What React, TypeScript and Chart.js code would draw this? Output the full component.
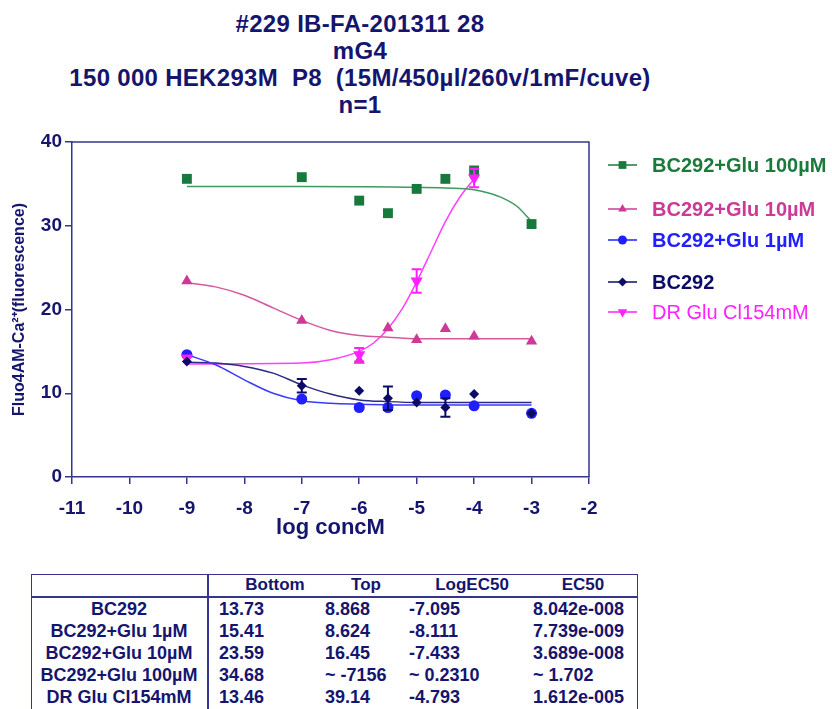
import React, { useEffect, useRef } from "react";
import { Chart, registerables } from "chart.js";
import { drawPoint } from "chart.js/helpers";

Chart.register(...registerables);

// ---------- data ----------
const titleLines = [
  "#229 IB-FA-201311 28",
  "mG4",
  "150 000 HEK293M  P8  (15M/450µl/260v/1mF/cuve)",
  "n=1",
];
const xAxisTitle = "log concM";
const yAxisTitle = "Fluo4AM-Ca²⁺(fluorescence)";

const seriesNames = ["BC292+Glu 100µM", "BC292+Glu 10µM", "BC292+Glu 1µM", "BC292", "DR Glu Cl154mM"];

// measured points (log conc M, fluorescence)
const glu100X = [-9, -7, -6, -5.5, -5, -4.5, -4, -3];
const glu100Y = [35.6, 35.8, 33.0, 31.5, 34.4, 35.6, 36.6, 30.2];

const glu10X = [-9, -7, -6, -5.5, -5, -4.5, -4, -3];
const glu10Y = [23.4, 18.7, 13.9, 17.8, 16.4, 17.7, 16.8, 16.2];

const glu1X = [-9, -7, -6, -5.5, -5, -4.5, -4, -3];
const glu1Y = [14.6, 9.3, 8.3, 8.3, 9.7, 9.8, 8.5, 7.6];

const bc292X = [-9, -7, -6, -5.5, -5, -4.5, -4, -3];
const bc292Y = [13.8, 10.9, 10.3, 9.4, 8.9, 8.3, 9.9, 7.6];
const bc292Err = [0, 0.8, 0, 1.4, 0, 1.1, 0, 0];

const drX = [-9, -6, -5, -4];
const drY = [14.2, 14.6, 23.4, 35.7];
const drErr = [0, 0.8, 1.4, 1.1];

// fitted curves
const glu100CurveX = [-9, -7, -5, -4.5, -4, -3.75, -3.5, -3.25, -3];
const glu100CurveY = [34.7, 34.7, 34.6, 34.5, 34.3, 33.9, 33.3, 32.3, 30.5];

const glu10CurveX = [-9, -8.5, -8, -7.5, -7, -6.5, -6, -5.5, -5, -4, -3];
const glu10CurveY = [23.2, 22.7, 21.7, 20.2, 18.7, 17.5, 16.9, 16.7, 16.5, 16.5, 16.5];

const glu1CurveX = [-9, -8.5, -8, -7.5, -7, -6.5, -6, -5, -3];
const glu1CurveY = [14.6, 13.4, 11.6, 10.0, 9.1, 8.8, 8.7, 8.6, 8.6];

const bc292CurveX = [-9, -8.5, -8, -7.5, -7, -6.5, -6, -5.5, -5, -4, -3];
const bc292CurveY = [13.7, 13.6, 13.2, 12.4, 11.0, 9.9, 9.2, 9.0, 8.9, 8.9, 8.9];

const drCurveX = [-9, -7, -6.5, -6, -5.75, -5.5, -5.25, -5, -4.75, -4.5, -4.25, -4];
const drCurveY = [13.5, 13.6, 14.0, 15.0, 16.0, 17.7, 20.1, 23.3, 26.9, 30.5, 33.4, 35.6];

// table
const tableHeaders = ["Bottom", "Top", "LogEC50", "EC50"];
const tableNames = ["BC292", "BC292+Glu 1µM", "BC292+Glu 10µM", "BC292+Glu 100µM", "DR Glu Cl154mM"];
const tableBottom = ["13.73", "15.41", "23.59", "34.68", "13.46"];
const tableTop = ["8.868", "8.624", "16.45", "~ -7156", "39.14"];
const tableLogEC50 = ["-7.095", "-8.111", "-7.433", "~ 0.2310", "-4.793"];
const tableEC50 = ["8.042e-008", "7.739e-009", "3.689e-008", "~ 1.702", "1.612e-005"];

// ---------- styles ----------
const FONT = "'Liberation Sans', Arial, Helvetica, sans-serif";
const NAVY_TEXT = "#15156e";
const AXIS = "#35358f";

const styles = [
  { marker: "#177a3c", line: "#3f9a62", text: "#1a7a3c", pointStyle: "rect", rotation: 0, radius: 7, legendRadius: 5.5, bold: true },
  { marker: "#cc3a96", line: "#d6589f", text: "#cc3a96", pointStyle: "triangle", rotation: 0, radius: 6.5, legendRadius: 5, bold: true },
  { marker: "#1f1fff", line: "#3b3bff", text: "#1f1fff", pointStyle: "circle", rotation: 0, radius: 5.5, legendRadius: 4.5, bold: true },
  { marker: "#0c0c66", line: "#2a2a80", text: "#0c0c66", pointStyle: "rectRot", rotation: 0, radius: 5, legendRadius: 4.5, bold: true },
  { marker: "#ff1fff", line: "#ff40ff", text: "#ff22ff", pointStyle: "triangle", rotation: 180, radius: 7, legendRadius: 5.5, bold: false },
];

const legendRowsY = [165, 209, 240, 282, 312];

const zip = (xs: number[], ys: number[]) => xs.map((x, i) => ({ x, y: ys[i] }));

const pointSets = [
  { x: glu100X, y: glu100Y, err: null as number[] | null },
  { x: glu10X, y: glu10Y, err: null },
  { x: glu1X, y: glu1Y, err: null },
  { x: bc292X, y: bc292Y, err: bc292Err },
  { x: drX, y: drY, err: drErr },
];
const curveSets = [
  { x: glu100CurveX, y: glu100CurveY },
  { x: glu10CurveX, y: glu10CurveY },
  { x: glu1CurveX, y: glu1CurveY },
  { x: bc292CurveX, y: bc292CurveY },
  { x: drCurveX, y: drCurveY },
];

const pointOrder = [5, 4, 2, 0, 1];

const errorBarPlugin = {
  id: "errorBars",
  afterDatasetsDraw(chart: any) {
    const { ctx } = chart;
    const xs = chart.scales.x;
    const ys = chart.scales.y;
    chart.data.datasets.forEach((ds: any) => {
      if (!ds.errorBars) return;
      ctx.save();
      ctx.strokeStyle = ds.borderColor;
      ctx.lineWidth = 2;
      ds.data.forEach((p: any, i: number) => {
        const e = ds.errorBars[i];
        if (!e) return;
        const px = xs.getPixelForValue(p.x);
        const top = ys.getPixelForValue(p.y + e);
        const bot = ys.getPixelForValue(p.y - e);
        ctx.beginPath();
        ctx.moveTo(px, top);
        ctx.lineTo(px, bot);
        ctx.moveTo(px - 5, top);
        ctx.lineTo(px + 5, top);
        ctx.moveTo(px - 5, bot);
        ctx.lineTo(px + 5, bot);
        ctx.stroke();
      });
      ctx.restore();
    });
  },
};

const framePlugin = {
  id: "frame",
  beforeDatasetsDraw(chart: any) {
    const { ctx, chartArea } = chart;
    ctx.save();
    ctx.strokeStyle = AXIS;
    ctx.lineWidth = 1.5;
    ctx.beginPath();
    ctx.moveTo(chartArea.left, chartArea.top);
    ctx.lineTo(chartArea.right, chartArea.top);
    ctx.lineTo(chartArea.right, chartArea.bottom);
    ctx.stroke();
    ctx.restore();
  },
};

const legendPlugin = {
  id: "customLegend",
  afterDraw(chart: any) {
    const { ctx } = chart;
    ctx.save();
    seriesNames.forEach((name, i) => {
      const st = styles[i];
      const y = legendRowsY[i];
      ctx.strokeStyle = st.text;
      ctx.lineWidth = 1.5;
      ctx.beginPath();
      ctx.moveTo(608, y);
      ctx.lineTo(637, y);
      ctx.stroke();
      ctx.fillStyle = st.text;
      drawPoint(ctx, { pointStyle: st.pointStyle as any, rotation: st.rotation, radius: st.legendRadius, borderWidth: 0 } as any, 622.5, y);
      ctx.fillStyle = st.text;
      ctx.font = `${st.bold ? "bold " : ""}20px ${FONT}`;
      ctx.textBaseline = "middle";
      ctx.textAlign = "left";
      ctx.fillText(name, 652, y + 1);
    });
    ctx.restore();
  },
};

export default function App() {
  const ref = useRef<HTMLCanvasElement>(null);

  useEffect(() => {
    if (!ref.current) return;
    const datasets: any[] = [];
    pointSets.forEach((ps, i) => {
      const st = styles[i];
      datasets.push({
        label: seriesNames[i],
        data: zip(ps.x, ps.y),
        showLine: false,
        pointStyle: st.pointStyle,
        rotation: st.rotation,
        pointRadius: st.radius,
        pointHoverRadius: st.radius,
        backgroundColor: st.marker,
        borderColor: st.marker,
        borderWidth: 0,
        errorBars: ps.err,
        order: pointOrder[i],
      });
    });
    curveSets.forEach((cs, i) => {
      const st = styles[i];
      datasets.push({
        label: seriesNames[i] + " fit",
        data: zip(cs.x, cs.y),
        showLine: true,
        pointRadius: 0,
        borderColor: st.line,
        backgroundColor: st.line,
        borderWidth: 1.5,
        cubicInterpolationMode: "monotone",
        fill: false,
        order: 10 + i,
      });
    });

    const tickFont = { family: FONT, size: 19, weight: "bold" as const };
    const chart = new Chart(ref.current, {
      type: "scatter",
      data: { datasets },
      options: {
        responsive: false,
        animation: false,
        layout: { padding: { top: 142, right: 243, bottom: 0, left: 0 } },
        plugins: {
          legend: { display: false },
          tooltip: { enabled: false },
          title: { display: false },
        },
        scales: {
          x: {
            type: "linear",
            min: -11,
            max: -2,
            ticks: { stepSize: 1, color: NAVY_TEXT, font: tickFont, padding: 13 },
            grid: { drawOnChartArea: false, drawTicks: true, tickLength: 7, color: AXIS, lineWidth: 1.5 },
            border: { display: true, color: AXIS, width: 1.5 },
            title: {
              display: true,
              text: xAxisTitle,
              color: NAVY_TEXT,
              font: { family: FONT, size: 22, weight: "bold" },
              padding: { top: 0, bottom: 19 },
            },
            afterFit: (s: any) => {
              s.height = 83;
            },
          } as any,
          y: {
            type: "linear",
            min: 0,
            max: 40,
            ticks: { stepSize: 10, color: NAVY_TEXT, font: tickFont, padding: 3 },
            grid: { drawOnChartArea: false, drawTicks: true, tickLength: 7, color: AXIS, lineWidth: 1.5 },
            border: { display: true, color: AXIS, width: 1.5 },
            title: {
              display: true,
              text: yAxisTitle,
              color: NAVY_TEXT,
              font: { family: FONT, size: 16, weight: "bold" },
              padding: { top: 10, bottom: 0 },
            },
            afterFit: (s: any) => {
              s.width = 72;
            },
          } as any,
        },
      },
      plugins: [framePlugin, errorBarPlugin, legendPlugin],
    });
    return () => chart.destroy();
  }, []);

  const headerCenters = [275, 366, 472, 583];
  const valueLefts = [219, 325, 409, 533];
  const rowCenters = [609, 631, 653, 675, 697];
  const columns = [tableBottom, tableTop, tableLogEC50, tableEC50];
  const cellText: React.CSSProperties = {
    position: "absolute",
    fontFamily: FONT,
    fontWeight: "bold",
    fontSize: 18,
    lineHeight: "22px",
    height: 22,
    color: NAVY_TEXT,
    whiteSpace: "pre",
  };

  return (
    <div
      style={{
        position: "absolute",
        left: 0,
        top: 0,
        width: 832,
        height: 709,
        overflow: "hidden",
        background: "#ffffff",
      }}
    >
      <div
        style={{
          position: "absolute",
          left: 0,
          top: 10,
          width: 720,
          textAlign: "center",
          fontFamily: FONT,
          fontWeight: "bold",
          fontSize: 24,
          letterSpacing: "0.3px",
          lineHeight: "27px",
          color: NAVY_TEXT,
          whiteSpace: "pre",
        }}
      >
        {titleLines.map((t, i) => (
          <div key={i}>{t}</div>
        ))}
      </div>
      <canvas ref={ref} width={832} height={560} style={{ position: "absolute", left: 0, top: 0 }} />
      {/* table */}
      <div
        style={{
          position: "absolute",
          left: 31,
          top: 574,
          width: 607,
          height: 150,
          border: `1.5px solid ${AXIS}`,
          boxSizing: "border-box",
        }}
      />
      <div style={{ position: "absolute", left: 207, top: 574, width: 1.5, height: 150, background: AXIS }} />
      <div style={{ position: "absolute", left: 31, top: 596, width: 607, height: 1.5, background: AXIS }} />
      {tableHeaders.map((h, i) => (
        <div key={"h" + i} style={{ ...cellText, fontSize: 17, left: headerCenters[i] - 60, width: 120, textAlign: "center", top: 585 - 11 }}>
          {h}
        </div>
      ))}
      {tableNames.map((n, r) => (
        <div key={"n" + r} style={{ ...cellText, left: 31, width: 176, textAlign: "center", top: rowCenters[r] - 11 }}>
          {n}
        </div>
      ))}
      {columns.map((col, c) =>
        col.map((v, r) => (
          <div key={"v" + c + "-" + r} style={{ ...cellText, left: valueLefts[c], top: rowCenters[r] - 11 }}>
            {v}
          </div>
        ))
      )}
    </div>
  );
}
